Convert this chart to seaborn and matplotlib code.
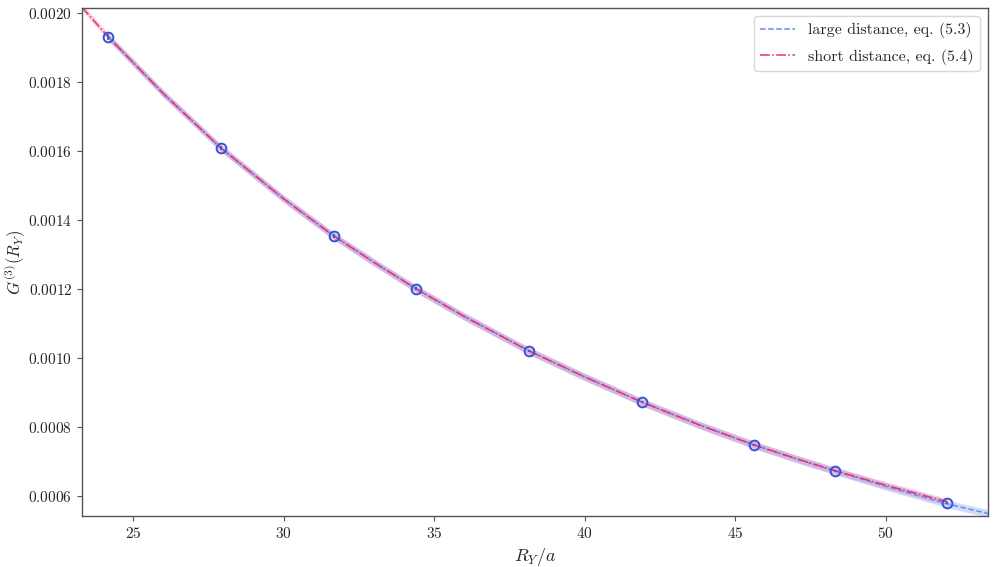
import numpy as np
import pandas as pd
import seaborn as sns
import matplotlib
matplotlib.use('Agg')
import matplotlib.pyplot as plt
from matplotlib.ticker import FuncFormatter

# lattice data
r_data = [24.17, 27.91, 31.66, 34.40, 38.15, 41.89, 45.63, 48.31, 52.05]
g_data = [0.0019304, 0.0016087, 0.0013536, 0.0012000, 0.0010203,
          0.0008724, 0.0007478, 0.0006724, 0.0005797]
g_err = [0.000008, 0.000006, 0.000005, 0.000004, 0.000004,
         0.000003, 0.000003, 0.000003, 0.000003]

# large distance fit, eq. (5.3)
r_large = [24.17, 26.0, 27.91, 30.0, 31.66, 33.0, 34.40, 36.0, 38.15, 40.0,
           41.89, 43.8, 45.63, 47.0, 48.31, 50.0, 52.05, 53.4]
g_large = [0.0019304, 0.001766, 0.0016087, 0.001461, 0.0013536, 0.001277,
           0.0012000, 0.001120, 0.0010203, 0.000945, 0.0008724, 0.000806,
           0.0007478, 0.000708, 0.0006724, 0.000628, 0.000577, 0.000549]
band_large = 0.000011

# short distance fit, eq. (5.4)
r_short = [23.3, 24.17, 26.0, 27.91, 30.0, 31.66, 33.0, 34.40, 36.0, 38.15,
           40.0, 41.89, 43.8, 45.63, 47.0, 48.31, 50.0, 52.05]
g_short = [0.002016, 0.0019304, 0.001766, 0.0016087, 0.001461, 0.0013536,
           0.001277, 0.0012000, 0.001120, 0.0010203, 0.000945, 0.0008724,
           0.000806, 0.0007478, 0.000709, 0.0006735, 0.000631, 0.000583]
band_short = 0.000010

sns.set_style('ticks')
plt.rcParams['font.family'] = 'serif'
plt.rcParams['font.serif'] = ['cmr10', 'DejaVu Serif']
plt.rcParams['mathtext.fontset'] = 'cm'

blue = '#6b8cf0'
pink = '#e8307a'
point_col = '#3553d4'

fig, ax = plt.subplots(figsize=(9.96, 5.67), dpi=100)
fig.subplots_adjust(left=0.0823, right=0.992, top=0.986, bottom=0.09)

large = pd.DataFrame({'r': r_large, 'g': g_large})
short = pd.DataFrame({'r': r_short, 'g': g_short})

ax.fill_between(large['r'], large['g'] - band_large, large['g'] + band_large,
                color=blue, alpha=0.3, lw=0)
ax.fill_between(short['r'], short['g'] - band_short, short['g'] + band_short,
                color=pink, alpha=0.22, lw=0)

sns.lineplot(data=large, x='r', y='g', ax=ax, color=blue, lw=1.1,
             linestyle='--', label='large distance, eq. (5.3)')
sns.lineplot(data=short, x='r', y='g', ax=ax, color=pink, lw=1.1,
             linestyle='-.', label='short distance, eq. (5.4)')

ax.errorbar(r_data, g_data, yerr=g_err, fmt='o', mfc='none', mec=point_col,
            ecolor=point_col, ms=7, mew=1.4, elinewidth=1.2, capsize=0, zorder=5)

ax.set_xlim(23.3, 53.4)
ax.set_ylim(0.000542, 0.002014)
ax.set_xticks([25, 30, 35, 40, 45, 50])
ax.xaxis.set_major_formatter(FuncFormatter(lambda v, p: r'$%d$' % v))
ax.yaxis.set_major_formatter(FuncFormatter(lambda v, p: r'$%.4f$' % v))
ax.tick_params(labelsize=11, color='#555555', length=3.5)

ax.set_xlabel(r'$R_Y/a$', fontsize=13, labelpad=4)
ax.set_ylabel(r'$G^{(3)}(R_Y)$', fontsize=12, labelpad=1)

for sp in ax.spines.values():
    sp.set_color('#555555')
    sp.set_linewidth(1.0)

ax.legend(loc='upper right', fontsize=11.5, frameon=True, fancybox=True,
          edgecolor='#d0d0d0', handlelength=2.2, labelspacing=0.65)

plt.savefig('out.png', dpi=100)
